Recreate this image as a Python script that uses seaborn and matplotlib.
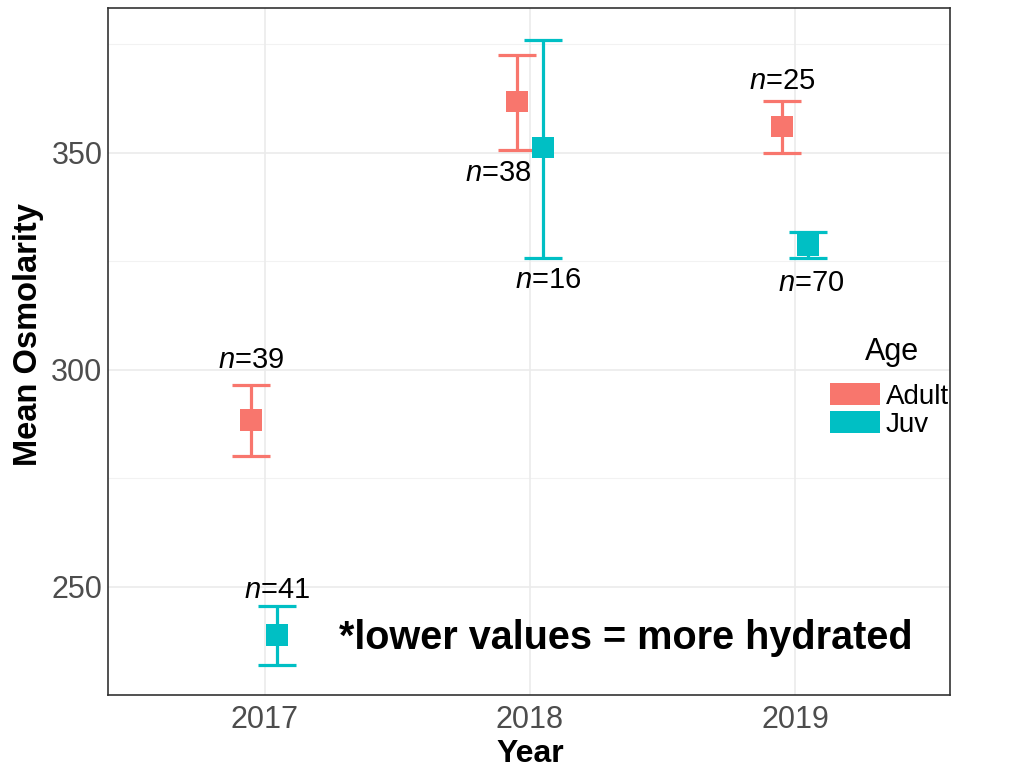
import numpy as np
import pandas as pd
import matplotlib
matplotlib.use("Agg")
import matplotlib.pyplot as plt
from matplotlib.patches import Patch
import seaborn as sns

# ---- data ----
years = [2017, 2017, 2018, 2018, 2019, 2019]
ages = ["Adult", "Juv", "Adult", "Juv", "Adult", "Juv"]
mean_osm = [288.5, 238.9, 361.8, 351.2, 356.0, 328.8]
lower_ci = [280.2, 232.0, 350.7, 325.8, 350.0, 325.8]
upper_ci = [296.5, 245.6, 372.6, 376.0, 361.8, 331.8]
n_counts = [39, 41, 38, 16, 25, 70]
label_side = ["above", "above", "below", "below", "above", "below"]

age_levels = ["Adult", "Juv"]
age_colors = {"Adult": "#F8766D", "Juv": "#00BFC4"}
x_ticks = [2017, 2018, 2019]
y_ticks = [250, 300, 350]
y_minor = [275, 325, 375]

# ---- style ----
sns.set_style("white")
plt.rcParams["font.family"] = ["Liberation Sans", "DejaVu Sans"]
plt.rcParams["text.color"] = "black"
plt.rcParams["axes.labelcolor"] = "black"
plt.rcParams["mathtext.fontset"] = "custom"
plt.rcParams["mathtext.rm"] = "Liberation Sans"
plt.rcParams["mathtext.it"] = "Liberation Sans:italic"

dodge = {"Adult": -0.05, "Juv": 0.048}
label_dx = [0, 0, -13, 4, 0, 2]          # points
label_dy = [18, 11.5, -16.5, -16, 14.5, -18]  # points

df = pd.DataFrame({
    "Year": years,
    "Age": ages,
    "mean": mean_osm,
    "lo": lower_ci,
    "hi": upper_ci,
    "n": n_counts,
    "side": label_side,
})
df["x"] = df["Year"] + df["Age"].map(dodge)

fig = plt.figure(figsize=(10.1, 7.67), dpi=100)
ax = fig.add_axes([0.107, 0.094, 0.834, 0.896])

# grid
for y in y_ticks:
    ax.axhline(y, color="#EBEBEB", lw=1.2, zorder=0)
for y in y_minor:
    ax.axhline(y, color="#F2F2F2", lw=0.8, zorder=0)
for x in x_ticks:
    ax.axvline(x, color="#EBEBEB", lw=1.2, zorder=0)

# error bars
for age in age_levels:
    sub = df[df["Age"] == age]
    ax.errorbar(sub["x"], sub["mean"],
                yerr=[sub["mean"] - sub["lo"], sub["hi"] - sub["mean"]],
                fmt="none", ecolor=age_colors[age], elinewidth=2.3,
                capsize=14, capthick=2.3, zorder=2)

sns.scatterplot(data=df, x="x", y="mean", hue="Age", palette=age_colors,
                hue_order=age_levels, marker="s", s=245, linewidth=0,
                legend=False, zorder=3, ax=ax)

# n labels
for i, row in df.reset_index(drop=True).iterrows():
    yv = row["hi"] if row["side"] == "above" else row["lo"]
    ax.annotate(f"$n$={row['n']}", (row["x"], yv),
                xytext=(label_dx[i], label_dy[i]), textcoords="offset points",
                ha="center", va="center", fontsize=21, color="black")

ax.text(0.615, 0.083, "*lower values = more hydrated", transform=ax.transAxes,
        ha="center", va="center", fontsize=28.5, fontweight="bold", color="black")

ax.set_xlim(2016.41, 2019.585)
ax.set_ylim(225.1, 383.4)
ax.set_xticks(x_ticks)
ax.set_yticks(y_ticks)
ax.set_xticklabels([str(t) for t in x_ticks])
ax.set_yticklabels([str(t) for t in y_ticks])
ax.tick_params(direction="out", length=3, width=1, color="#333333",
               labelcolor="#4D4D4D", labelsize=22)
ax.tick_params(axis="y", pad=1)
ax.tick_params(axis="x", pad=4)

for sp in ax.spines.values():
    sp.set_visible(True)
    sp.set_color("#333333")
    sp.set_linewidth(1.2)

ax.set_xlabel("Year", fontsize=23, fontweight="bold")
ax.set_ylabel("Mean Osmolarity", fontsize=23.5, fontweight="bold")
ax.xaxis.set_label_coords(0.501, -0.064)
ax.yaxis.set_label_coords(-0.076, 0.524)

# legend (title drawn separately to get the wider gap)
handles = [Patch(facecolor=age_colors[a], edgecolor="none", label=a) for a in age_levels]
leg = fig.legend(handles=handles, loc="upper left",
                 bbox_to_anchor=(805 / 1010, 1 - 358 / 767),
                 frameon=False, fontsize=20,
                 handlelength=1.8, handleheight=0.85, labelspacing=0.05,
                 handletextpad=0.2)
leg.set_zorder(5)
fig.text(892 / 1010, 1 - 352 / 767, "Age", ha="center", va="center",
         fontsize=22, color="black")

fig.savefig("out.png", dpi=100)
